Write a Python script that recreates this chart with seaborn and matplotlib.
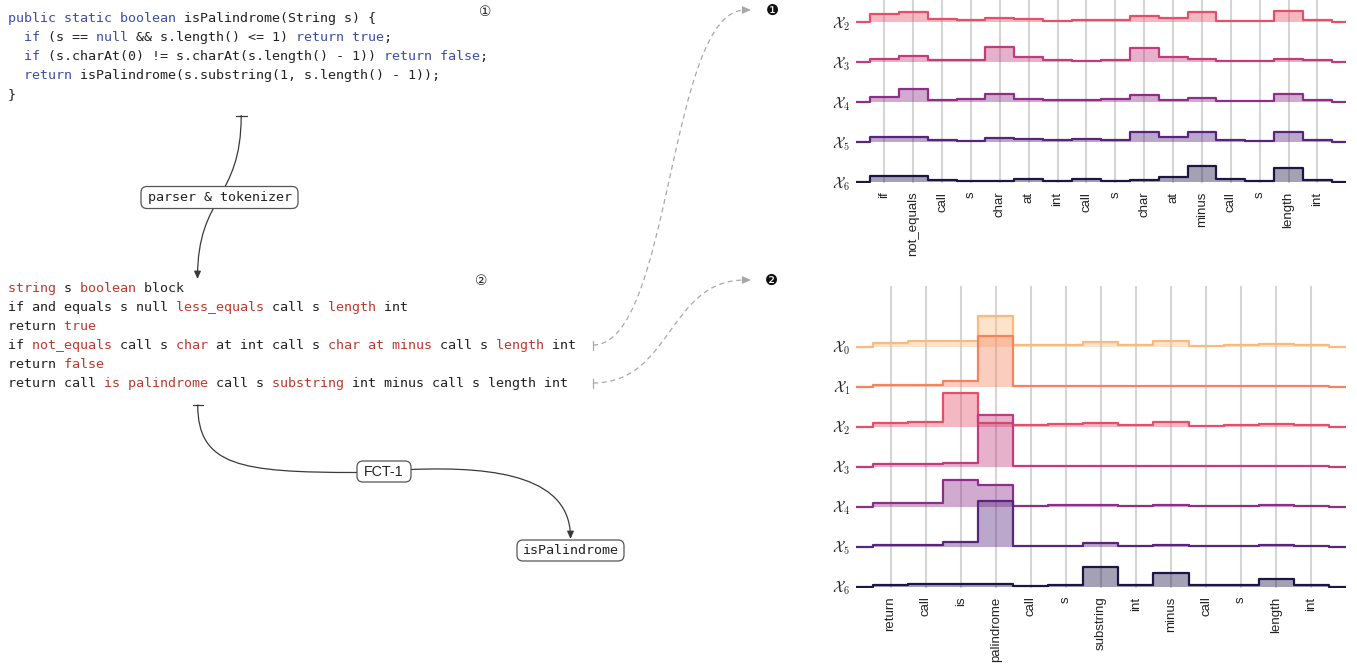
import numpy as np
import matplotlib
matplotlib.use("Agg")
import matplotlib.pyplot as plt
import seaborn as sns
from matplotlib.path import Path
from matplotlib.patches import FancyArrowPatch, FancyBboxPatch, PathPatch

# ---------------------------------------------------------------- data
# attention profile of the 4th token line (rows X2..X6), one value per token
tokens_a = ["if", "not_equals", "call", "s", "char", "at", "int", "call", "s",
            "char", "at", "minus", "call", "s", "length", "int"]
att_a_x2 = [0.19, 0.23, 0.075, 0.033, 0.083, 0.075, 0.025, 0.05, 0.042, 0.133, 0.092, 0.233, 0.025, 0.017, 0.275, 0.033]
att_a_x3 = [0.075, 0.133, 0.033, 0.033, 0.358, 0.117, 0.033, 0.017, 0.033, 0.333, 0.108, 0.067, 0.017, 0.017, 0.075, 0.033]
att_a_x4 = [0.117, 0.308, 0.05, 0.075, 0.2, 0.075, 0.033, 0.033, 0.067, 0.167, 0.05, 0.092, 0.017, 0.025, 0.183, 0.05]
att_a_x5 = [0.108, 0.125, 0.05, 0.025, 0.083, 0.058, 0.033, 0.067, 0.042, 0.25, 0.125, 0.25, 0.042, 0.025, 0.25, 0.042]
att_a_x6 = [0.15, 0.133, 0.05, 0.008, 0.025, 0.058, 0.025, 0.058, 0.017, 0.05, 0.108, 0.392, 0.075, 0.017, 0.342, 0.042]
labels_a = [r"$\mathcal{X}_2$", r"$\mathcal{X}_3$", r"$\mathcal{X}_4$", r"$\mathcal{X}_5$", r"$\mathcal{X}_6$"]

# attention profile of the last token line (rows X0..X6)
tokens_b = ["return", "call", "is", "palindrome", "call", "s", "substring",
            "int", "minus", "call", "s", "length", "int"]
att_b_x0 = [0.083, 0.15, 0.13, 0.775, 0.05, 0.05, 0.125, 0.05, 0.15, 0.025, 0.033, 0.058, 0.04]
att_b_x1 = [0.04, 0.05, 0.15, 1.275, 0.017, 0.017, 0.017, 0.017, 0.025, 0.01, 0.01, 0.01, 0.01]
att_b_x2 = [0.083, 0.117, 0.85, 0.083, 0.033, 0.058, 0.083, 0.033, 0.125, 0.017, 0.033, 0.075, 0.042]
att_b_x3 = [0.058, 0.067, 0.092, 1.3, 0.017, 0.017, 0.025, 0.017, 0.017, 0.01, 0.01, 0.017, 0.01]
att_b_x4 = [0.083, 0.1, 0.66, 0.55, 0.017, 0.033, 0.05, 0.025, 0.033, 0.008, 0.017, 0.042, 0.025]
att_b_x5 = [0.042, 0.033, 0.108, 1.15, 0.025, 0.025, 0.1, 0.025, 0.05, 0.017, 0.017, 0.042, 0.017]
att_b_x6 = [0.05, 0.058, 0.075, 0.058, 0.025, 0.033, 0.483, 0.033, 0.342, 0.033, 0.033, 0.19, 0.042]
labels_b = [r"$\mathcal{X}_%d$" % i for i in range(7)]

# source code and its token sequence (text, colour key)
java_lines = [
    [("public static boolean", "kw"), (" isPalindrome(String s) {", "tx")],
    [("  ", "tx"), ("if", "kw"), (" (s == ", "tx"), ("null", "kw"), (" && s.length() <= 1) ", "tx"),
     ("return true", "kw"), (";", "tx")],
    [("  ", "tx"), ("if", "kw"), (" (s.charAt(0) != s.charAt(s.length() - 1)) ", "tx"),
     ("return false", "kw"), (";", "tx")],
    [("  ", "tx"), ("return", "kw"), (" isPalindrome(s.substring(1, s.length() - 1));", "tx")],
    [("}", "tx")],
]
token_lines = [
    [("string", "hl"), (" s ", "tx"), ("boolean", "hl"), (" block", "tx")],
    [("if and equals s null ", "tx"), ("less_equals", "hl"), (" call s ", "tx"), ("length", "hl"), (" int", "tx")],
    [("return ", "tx"), ("true", "hl")],
    [("if ", "tx"), ("not_equals", "hl"), (" call s ", "tx"), ("char", "hl"), (" at int call s ", "tx"),
     ("char at minus", "hl"), (" call s ", "tx"), ("length", "hl"), (" int", "tx")],
    [("return ", "tx"), ("false", "hl")],
    [("return call ", "tx"), ("is palindrome", "hl"), (" call s ", "tx"), ("substring", "hl"),
     (" int minus call s length int", "tx")],
]

# ---------------------------------------------------------------- style
sns.set_theme(style="white")
plt.rcParams["font.family"] = ["DejaVu Sans", "Noto Sans CJK JP"]
plt.rcParams["mathtext.fontset"] = "cm"

W, H = 1357, 666
fig = plt.figure(figsize=(W / 100, H / 100), dpi=100)

palette = ["#fcb97d", "#f4845f", "#e44f6a", "#c23c7d", "#8e2e88", "#57247e", "#1d1545"]
code_colors = {"kw": "#3b4fa6", "tx": "#222222", "hl": "#c0392b"}
MONO = "DejaVu Sans Mono"
MONO_SIZE = 9.6

# full-figure canvas in pixel units (y grows downwards)
canvas = fig.add_axes([0, 0, 1, 1])
canvas.set_xlim(0, W)
canvas.set_ylim(H, 0)
canvas.axis("off")


def colored_line(x, y, segments):
    """Draw one monospace line, one layer per colour, so characters stay aligned."""
    for key in dict.fromkeys(c for _, c in segments):
        masked = "".join(s if c == key else " " * len(s) for s, c in segments)
        canvas.text(x, y, masked, color=code_colors[key], fontsize=MONO_SIZE,
                    family=MONO, ha="left", va="baseline")


for i, segs in enumerate(java_lines):
    colored_line(8, 22.3 + 19 * i, segs)
for i, segs in enumerate(token_lines):
    colored_line(8, 292 + 19 * i, segs)

canvas.text(485, 12, "①", fontsize=10, ha="center", va="center", color="#222222")
canvas.text(481, 281, "②", fontsize=10, ha="center", va="center", color="#222222")
canvas.text(772, 10, "❶", fontsize=10.5, ha="center", va="center", color="#111111")
canvas.text(772, 280, "❷", fontsize=10.5, ha="center", va="center", color="#111111")


def bezier(p0, p1, p2, p3):
    return Path([p0, p1, p2, p3], [Path.MOVETO, Path.CURVE4, Path.CURVE4, Path.CURVE4])


def label_box(cx, cy, w, h, text, family, size):
    canvas.add_patch(FancyBboxPatch((cx - w / 2, cy - h / 2), w, h,
                                    boxstyle="round,pad=0,rounding_size=6",
                                    fc="white", ec="#555555", lw=0.9, zorder=5))
    canvas.text(cx, cy, text, family=family, fontsize=size, ha="center", va="center",
                color="#222222", zorder=6)


arrow_col = "#3a3a3a"
# parser arrow: T-bar start, curve through the box, filled head
canvas.plot([236, 246.5], [115.5, 115.5], color=arrow_col, lw=0.9)
canvas.add_patch(FancyArrowPatch(path=bezier((241.2, 115.5), (241.2, 200), (197.5, 195), (197.5, 279)),
                                 arrowstyle="-|>,head_length=0.45,head_width=0.2", mutation_scale=10,
                                 color=arrow_col, lw=0.9, zorder=3))
label_box(219.5, 197.5, 157, 22, "parser & tokenizer", MONO, MONO_SIZE)

# FCT-1 arrow
canvas.plot([192.5, 203], [404.5, 404.5], color=arrow_col, lw=0.9)
canvas.add_patch(PathPatch(bezier((197.7, 404.5), (197.7, 466), (240, 472.5), (357, 472.5)),
                           fc="none", ec=arrow_col, lw=0.9, zorder=3))
canvas.add_patch(FancyArrowPatch(path=bezier((411, 469.5), (500, 466), (570.5, 478), (570.5, 539)),
                                 arrowstyle="-|>,head_length=0.45,head_width=0.2", mutation_scale=10,
                                 color=arrow_col, lw=0.9, zorder=3))
label_box(384, 471.5, 54, 21, "FCT-1", "Liberation Sans", 10.3)
label_box(570.5, 550.5, 107, 21, "isPalindrome", MONO, MONO_SIZE)

# dashed pointers from the token lines to the two attention views
dash_col = "#a8a8a8"
for y0, y1 in [(345, 10), (383, 280)]:
    canvas.plot([593, 593], [y0 - 4.5, y0 + 4.5], color=dash_col, lw=0.9)
    canvas.add_patch(PathPatch(bezier((593, y0), (672, y0), (668, y1), (745, y1)),
                               fc="none", ec=dash_col, lw=0.9, ls=(0, (4, 3))))
    canvas.annotate("", xy=(751, y1), xytext=(744, y1),
                    arrowprops=dict(arrowstyle="-|>,head_length=0.5,head_width=0.22",
                                    mutation_scale=10, color=dash_col, lw=0.9,
                                    shrinkA=0, shrinkB=0))


# ---------------------------------------------------------------- ridgeline attention views
ROW_PX = 40.0
X0_PX, X1_PX = 855.5, 1346.3


def ridge_axes(top_px, bottom_px):
    ax = fig.add_axes([X0_PX / W, 1 - bottom_px / H, (X1_PX - X0_PX) / W, (bottom_px - top_px) / H])
    ax.set_facecolor("none")
    lo = -1.6 / ROW_PX
    ax.set_ylim(lo, lo + (bottom_px - top_px) / ROW_PX)
    return ax


def ridge(ax, tokens, rows, labels, colors):
    n = len(tokens)
    k = len(rows)
    xs = np.arange(-1, n + 1)
    for i, (vals, col) in enumerate(zip(rows, colors)):
        base = k - 1 - i
        ys = base + np.concatenate([[0.0], vals, [0.0]])
        ax.fill_between(xs, base, ys, step="mid", color=col, alpha=0.4, lw=0, zorder=2 + 2 * i)
        sns.lineplot(x=xs, y=ys, ax=ax, color=col, lw=1.6, drawstyle="steps-mid",
                     estimator=None, sort=False, zorder=3 + 2 * i)
    ax.set_xlim(-1, n)
    ax.set_xticks(range(n))
    ax.set_xticklabels(tokens, rotation=90, fontsize=9.5, family="Liberation Sans", color="#222222")
    ax.set_yticks(range(k))
    ax.set_yticklabels(labels[::-1], fontsize=10.5, color="#222222")
    ax.tick_params(axis="x", length=0, pad=6)
    ax.tick_params(axis="y", length=0, pad=4)
    ax.grid(axis="x", visible=True, color="#d5d5d5", lw=1.5)
    ax.grid(axis="y", visible=False)
    ax.set_axisbelow(True)
    for sp in ax.spines.values():
        sp.set_visible(False)
    ax.set_xlabel("")
    ax.set_ylabel("")


ax_a = ridge_axes(0, 183.3)
ridge(ax_a, tokens_a, [att_a_x2, att_a_x3, att_a_x4, att_a_x5, att_a_x6], labels_a, palette[2:])

ax_b = ridge_axes(286, 588.1)
ridge(ax_b, tokens_b, [att_b_x0, att_b_x1, att_b_x2, att_b_x3, att_b_x4, att_b_x5, att_b_x6],
      labels_b, palette)

fig.savefig("out.png", dpi=100)
